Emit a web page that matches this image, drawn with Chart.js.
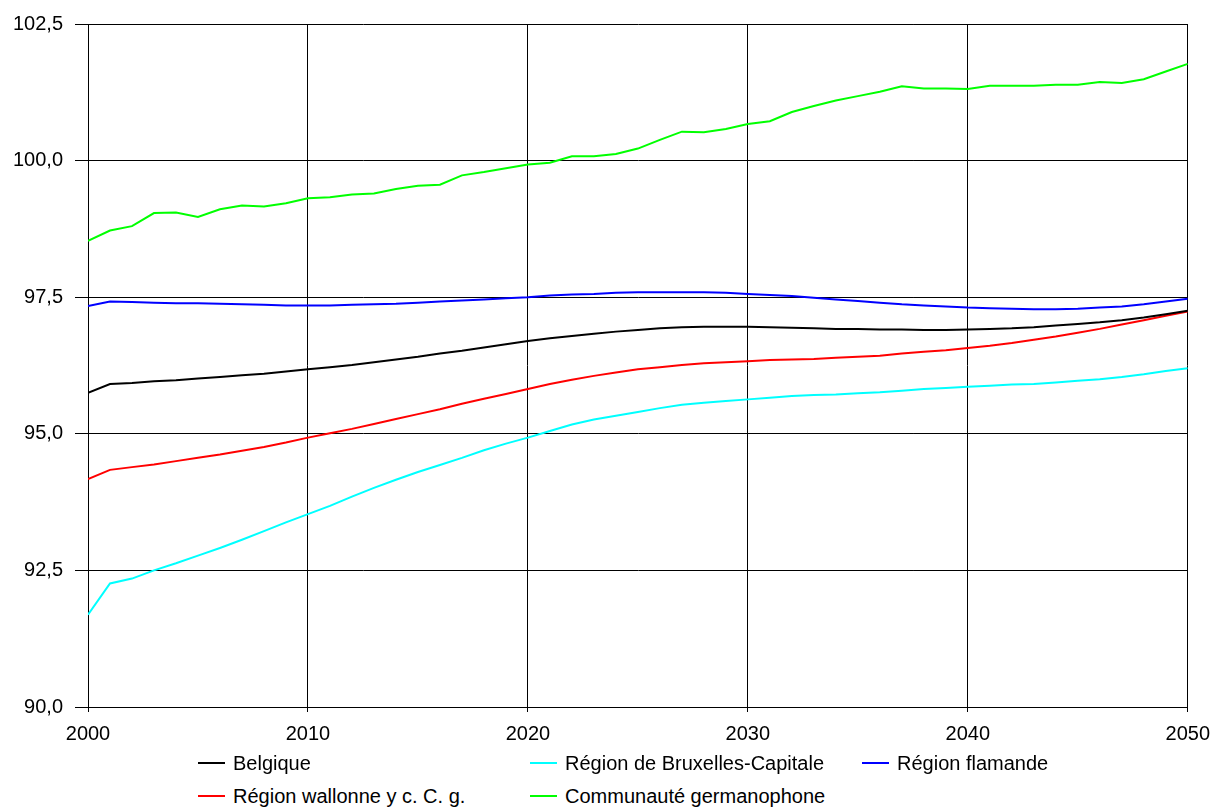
<!DOCTYPE html>
<html>
<head>
<meta charset="utf-8">
<script src="https://cdn.jsdelivr.net/npm/chart.js@4/dist/chart.umd.min.js"></script>
<style>
  body { margin: 0; background: #fff; font-family: "Liberation Sans", Arial, sans-serif; }
  #wrap { position: relative; width: 1220px; height: 807px; }
  #chart { position: absolute; left: 0; top: 0; }
  .legend-item { position: absolute; height: 24px; line-height: 24px; font-size: 20px; color: #000; white-space: nowrap; }
  .legend-item .swatch { position: absolute; left: 0; top: 11px; width: 27px; height: 2px; }
  .legend-item .label { position: absolute; left: 35px; top: 0; }
</style>
</head>
<body>
<div id="wrap">
  <canvas id="chart" width="1220" height="760"></canvas>
  <div id="legend"></div>
</div>
<script>
// years on the x axis
const years = [];
for (let y = 2000; y <= 2050; y++) years.push(y);

const belgique = [
  95.75, 95.91, 95.93, 95.96, 95.98, 96.01, 96.04, 96.07, 96.10, 96.14,
  96.18, 96.22, 96.26, 96.31, 96.36, 96.41, 96.47, 96.52, 96.58, 96.64,
  96.70, 96.75, 96.79, 96.83, 96.87, 96.90, 96.93, 96.95, 96.96, 96.96,
  96.96, 96.95, 96.94, 96.93, 96.92, 96.92, 96.91, 96.91, 96.90, 96.90,
  96.91, 96.92, 96.93, 96.95, 96.98, 97.01, 97.04, 97.08, 97.13, 97.19,
  97.25
];

const bruxelles = [
  91.69, 92.26, 92.35, 92.50, 92.63, 92.77, 92.91, 93.06, 93.22, 93.38,
  93.53, 93.68, 93.85, 94.01, 94.16, 94.30, 94.43, 94.56, 94.70, 94.82,
  94.93, 95.05, 95.17, 95.26, 95.33, 95.40, 95.47, 95.53, 95.57, 95.60,
  95.63, 95.66, 95.69, 95.71, 95.72, 95.74, 95.76, 95.79, 95.82, 95.84,
  95.86, 95.88, 95.90, 95.91, 95.94, 95.97, 96.00, 96.04, 96.09, 96.15,
  96.20
];

const flamande = [
  97.34, 97.42, 97.41, 97.40, 97.39, 97.39, 97.38, 97.37, 97.36, 97.35,
  97.35, 97.35, 97.36, 97.37, 97.38, 97.40, 97.42, 97.44, 97.46, 97.48,
  97.50, 97.53, 97.55, 97.56, 97.58, 97.59, 97.59, 97.59, 97.59, 97.58,
  97.56, 97.54, 97.52, 97.49, 97.46, 97.43, 97.40, 97.37, 97.35, 97.33,
  97.31, 97.30, 97.29, 97.28, 97.28, 97.29, 97.31, 97.33, 97.37, 97.42,
  97.47
];

const wallonne = [
  94.17, 94.34, 94.39, 94.44, 94.50, 94.56, 94.62, 94.69, 94.76, 94.84,
  94.93, 95.01, 95.09, 95.18, 95.27, 95.36, 95.45, 95.55, 95.64, 95.73,
  95.82, 95.91, 95.99, 96.06, 96.12, 96.18, 96.22, 96.26, 96.29, 96.31,
  96.33, 96.35, 96.36, 96.37, 96.39, 96.41, 96.43, 96.47, 96.50, 96.53,
  96.57, 96.61, 96.66, 96.72, 96.78, 96.85, 96.92, 97.00, 97.08, 97.16,
  97.24
];

const germanophone = [
  98.53, 98.72, 98.80, 99.04, 99.05, 98.97, 99.11, 99.18, 99.16, 99.22,
  99.31, 99.33, 99.38, 99.40, 99.48, 99.54, 99.56, 99.73, 99.79, 99.86,
  99.93, 99.96, 100.08, 100.08, 100.12, 100.22, 100.38, 100.53, 100.52, 100.58,
  100.67, 100.72, 100.89, 101.00, 101.10, 101.18, 101.26, 101.36, 101.32, 101.32,
  101.31, 101.37, 101.37, 101.37, 101.39, 101.39, 101.44, 101.42, 101.49, 101.63,
  101.77
];

const seriesNames = [
  'Belgique',
  'Région de Bruxelles-Capitale',
  'Région flamande',
  'Région wallonne y c. C. g.',
  'Communauté germanophone'
];
const seriesData = [belgique, bruxelles, flamande, wallonne, germanophone];
const seriesColors = ['#000000', '#00ffff', '#0000ff', '#ff0000', '#00ff00'];

// legend slots (left edge of swatch, top of row)
const legendPos = [[198, 751], [530, 751], [862, 751], [198, 784], [530, 784]];

function toPoints(values) {
  return values.map((v, i) => ({ x: years[i], y: v }));
}

document.addEventListener('DOMContentLoaded', () => {
  const datasets = seriesNames.map((name, i) => ({
    label: name,
    data: toPoints(seriesData[i]),
    borderColor: seriesColors[i],
    backgroundColor: seriesColors[i],
    borderWidth: 2,
    pointRadius: 0,
    tension: 0,
    fill: false,
  }));

  const tickFont = { family: '"Liberation Sans", Arial, sans-serif', size: 20 };

  new Chart(document.getElementById('chart'), {
    type: 'line',
    data: { datasets },
    options: {
      responsive: false,
      animation: false,
      devicePixelRatio: 1,
      layout: { padding: { left: 0, right: 30, top: 19, bottom: 0 } },
      plugins: { legend: { display: false }, tooltip: { enabled: false } },
      scales: {
        x: {
          type: 'linear',
          min: 2000,
          max: 2050,
          afterFit: (scale) => { scale.height = 53; },
          ticks: {
            stepSize: 10,
            color: '#000',
            font: tickFont,
            padding: 10,
            maxRotation: 0,
            callback: (v) => String(v),
          },
          grid: { color: '#000', lineWidth: 1, tickLength: 5 },
          border: { color: '#000', width: 1 },
        },
        y: {
          min: 90,
          max: 102.5,
          afterFit: (scale) => { scale.width = 88; },
          ticks: {
            stepSize: 2.5,
            color: '#000',
            font: tickFont,
            padding: 12,
            callback: (v) => v.toFixed(1).replace('.', ','),
          },
          grid: { color: '#000', lineWidth: 1, tickLength: 13 },
          border: { color: '#000', width: 1 },
        },
      },
    },
  });

  // legend laid out in three columns like the original
  const legend = document.getElementById('legend');
  seriesNames.forEach((name, i) => {
    const item = document.createElement('div');
    item.classList.add('legend-item');
    item.style.left = legendPos[i][0] + 'px';
    item.style.top = legendPos[i][1] + 'px';

    const swatch = document.createElement('span');
    swatch.classList.add('swatch');
    swatch.style.background = seriesColors[i];

    const label = document.createElement('span');
    label.classList.add('label');
    label.textContent = name;

    item.appendChild(swatch);
    item.appendChild(label);
    legend.appendChild(item);
  });
});
</script>
</body>
</html>
